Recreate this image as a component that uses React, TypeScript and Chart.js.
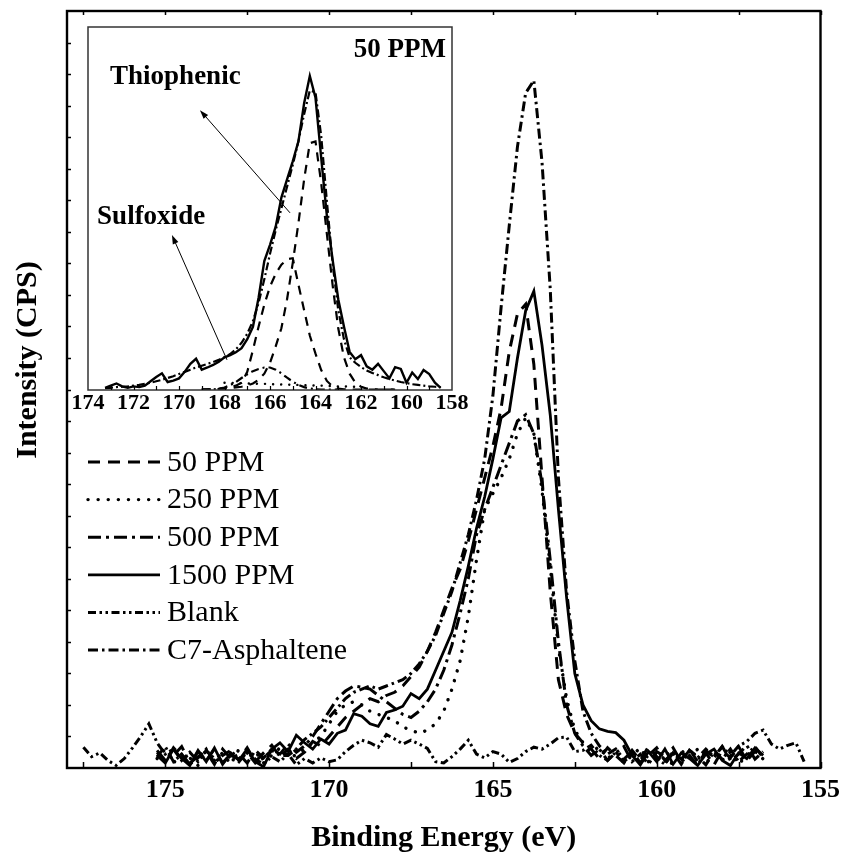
import React, { useEffect, useRef } from 'react';
import { Chart, registerables } from 'chart.js';

Chart.register(...registerables);

const SERIF = '"Liberation Serif", "Times New Roman", Times, serif';

// ---------------- Main plot data (Binding energy, eV) ----------------
const energy = [
  177.5, 177.25, 177, 176.75, 176.5, 176.25, 176, 175.75, 175.5, 175.25,
  175, 174.75, 174.5, 174.25, 174, 173.75, 173.5, 173.25, 173, 172.75,
  172.5, 172.25, 172, 171.75, 171.5, 171.25, 171, 170.75, 170.5, 170.25,
  170, 169.75, 169.5, 169.25, 169, 168.75, 168.5, 168.25, 168, 167.75,
  167.5, 167.25, 167, 166.75, 166.5, 166.25, 166, 165.75, 165.5, 165.25,
  165, 164.75, 164.5, 164.25, 164, 163.75, 163.5, 163.25, 163, 162.75,
  162.5, 162.25, 162, 161.75, 161.5, 161.25, 161, 160.75, 160.5, 160.25,
  160, 159.75, 159.5, 159.25, 159, 158.75, 158.5, 158.25, 158, 157.75,
  157.5, 157.25, 157, 156.75, 156.5, 156.25, 156, 155.75, 155.5,
];

const ppm50 = [
  null, null, null, null, null, null, null, null, null, 2.5,
  1.0, 3.2, 1.8, 0.6, 2.6, 1.2, 3.0, 0.8, 2.0, 1.4,
  3.2, 1.0, 2.4, 3.6, 1.8, 3.0, 1.5, 2.5, 4.2, 3.5,
  5.0, 6.5, 8.0, 9.0, 10.0, 11.0, 10.5, 11.5, 12.0, 13.0,
  14.5, 16.0, 18.5, 21.5, 25.0, 28.5, 31.5, 36.0, 41.0, 46.0,
  51.0, 57.0, 66.0, 72.0, 73.5, 64.0, 46.0, 28.0, 14.0, 8.5,
  5.5, 4.0, 3.0, 1.5, 3.2, 2.0, 0.8, 2.8, 1.2, 3.4,
  1.8, 0.6, 2.6, 1.4, 3.0, 1.0, 2.4, 0.5, 2.8, 1.6,
  3.4, 1.2, 2.6, 1.8, null, null, null, null, null,
];

const ppm250 = [
  null, null, null, null, null, null, null, null, null, 1.5,
  3.0, 0.8, 2.2, 1.6, 0.4, 2.8, 1.2, 2.4, 0.6, 3.0,
  1.4, 2.6, 0.8, 2.0, 3.2, 1.8, 2.0, 3.0, 4.0, 5.0,
  7.0, 9.0, 10.0, 10.5, 10.0, 9.0, 8.5, 8.0, 7.5, 6.5,
  6.0, 5.5, 6.0, 7.0, 9.0, 12.5, 17.0, 24.0, 33.0, 41.0,
  43.5, 46.0, 49.0, 53.0, 55.5, 53.0, 44.0, 32.0, 19.0, 11.0,
  6.0, 4.0, 2.5, 3.4, 1.5, 2.6, 0.8, 2.0, 3.2, 1.0,
  2.4, 1.4, 0.6, 2.8, 1.6, 3.0, 0.8, 2.2, 1.2, 2.6,
  0.6, 2.0, 3.0, 1.4, null, null, null, null, null,
];

const ppm500 = [
  null, null, null, null, null, null, null, null, null, 2.8,
  1.2, 2.0, 3.4, 0.8, 1.8, 2.6, 0.6, 3.0, 1.5, 2.2,
  0.8, 2.8, 1.6, 3.0, 2.2, 3.8, 2.5, 3.5, 5.0, 7.0,
  9.0, 11.0, 12.2, 13.0, 12.8, 12.5, 11.5, 10.5, 9.5, 8.5,
  8.0, 9.0, 10.5, 12.5, 15.5, 19.5, 24.5, 30.0, 37.0, 41.0,
  44.5, 48.0, 51.5, 55.0, 56.0, 53.0, 45.0, 33.0, 20.0, 10.0,
  5.5, 3.5, 2.0, 3.0, 1.2, 2.4, 3.4, 1.0, 2.2, 0.6,
  2.6, 1.8, 3.2, 1.0, 2.0, 0.4, 2.8, 1.6, 3.4, 1.2,
  2.2, 3.6, 1.4, 2.6, null, null, null, null, null,
];

const ppm1500 = [
  null, null, null, null, null, null, null, null, null, 2.0,
  0.8, 3.0, 1.5, 0.4, 2.8, 1.0, 3.2, 0.6, 2.4, 1.2,
  3.0, 1.0, 0.2, 3.0, 4.0, 2.6, 5.2, 4.0, 3.0, 4.6,
  3.8, 5.5, 6.0, 8.6, 8.2, 7.0, 6.6, 8.8, 9.2, 9.8,
  11.8, 11.0, 12.5, 15.5, 18.5, 21.5, 26.5, 32.0, 38.0, 43.0,
  49.0, 55.5, 56.5, 65.0, 72.5, 75.6, 67.0, 56.0, 41.0, 27.0,
  15.0, 10.0, 7.5, 6.2, 5.8, 5.6, 4.4, 2.0, 0.5, 2.6,
  1.0, 3.0, 0.6, 2.4, 1.5, 0.4, 2.2, 3.0, 1.2, 0.4,
  2.4, 1.5, 3.2, 2.0, null, null, null, null, null,
];

const blank = [
  3.3, 1.8, 2.4, 1.2, 0.4, 1.5, 3.2, 5.0, 7.0, 4.0,
  2.2, 3.0, 1.2, 2.5, 1.0, 2.8, 1.5, 0.8, 2.2, 1.0,
  2.6, 1.4, 0.6, 1.8, 1.0, 2.2, 0.5, 1.5, 0.8, 1.6,
  1.0, 1.3, 2.6, 3.6, 4.4, 4.0, 3.3, 5.3, 4.6, 3.8,
  4.4, 3.8, 3.1, 1.0, 0.8, 1.8, 3.0, 4.4, 2.2, 1.6,
  2.6, 2.2, 0.9, 1.5, 2.6, 3.3, 3.0, 3.8, 4.8, 4.9,
  2.6, 2.8, 3.6, 2.0, 1.2, 2.5, 1.0, 2.2, 0.8, 2.6,
  1.5, 0.6, 2.4, 1.2, 2.8, 1.6, 3.0, 1.8, 3.4, 2.0,
  3.5, 4.2, 5.5, 6.0, 3.8, 3.0, 3.6, 4.0, 1.0,
];

const c7Asphaltene = [
  null, null, null, null, null, null, null, null, null, 1.8,
  3.4, 1.0, 2.2, 0.6, 1.6, 3.0, 0.8, 2.0, 2.8, 1.2,
  2.4, 0.8, 1.6, 2.8, 2.0, 2.0, 3.0, 4.5, 5.5, 6.5,
  8.0, 9.5, 11.0, 12.0, 12.5, 13.0, 12.5, 13.0, 13.5, 14.0,
  15.0, 16.5, 18.5, 21.0, 24.5, 28.0, 32.5, 37.0, 42.5, 49.0,
  59.0, 73.0, 86.0, 98.5, 107.0, 109.0, 96.0, 76.0, 46.0, 28.0,
  17.0, 9.0, 5.5, 3.5, 2.2, 3.0, 1.4, 2.6, 0.8, 2.0,
  3.2, 1.2, 2.4, 0.6, 2.8, 1.8, 0.5, 2.6, 1.4, 3.0,
  1.0, 2.2, 3.4, 1.6, null, null, null, null, null,
];

const seriesLabels = ['50 PPM', '250 PPM', '500 PPM', '1500 PPM', 'Blank', 'C7-Asphaltene'];
const seriesValues = [ppm50, ppm250, ppm500, ppm1500, blank, c7Asphaltene];
const xTickLabels = [175, 170, 165, 160, 155];

// ---------------- Inset data (50 PPM deconvolution) ----------------
const insetEnergy = [
  173.25, 173, 172.75, 172.5, 172.25, 172, 171.75, 171.5, 171.25, 171,
  170.75, 170.5, 170.25, 170, 169.75, 169.5, 169.25, 169, 168.75, 168.5,
  168.25, 168, 167.75, 167.5, 167.25, 167, 166.75, 166.5, 166.25, 166,
  165.75, 165.5, 165.25, 165, 164.75, 164.5, 164.25, 164, 163.75, 163.5,
  163.25, 163, 162.75, 162.5, 162.25, 162, 161.75, 161.5, 161.25, 161,
  160.75, 160.5, 160.25, 160, 159.75, 159.5, 159.25, 159, 158.75, 158.5,
];

const insetRaw = [
  0.6, 1.2, 1.8, 1.0, 0.6, 1.0, 0.8, 1.2, 2.4, 3.6,
  4.6, 2.2, 2.6, 3.2, 5.0, 7.2, 8.6, 5.6, 6.2, 6.9,
  7.8, 9.0, 9.6, 10.4, 11.5, 14.0, 17.4, 25.5, 35.5, 40.0,
  45.0, 53.0, 58.0, 63.0, 68.5, 79.0, 86.5, 80.5, 64.0, 48.0,
  36.0, 25.0, 17.5, 10.5, 8.5, 9.6, 6.5, 5.6, 7.2, 5.2,
  3.2, 6.3, 5.8, 2.0, 4.8, 3.0, 5.5, 4.4, 2.0, 0.6,
];

const insetFit = [
  0.5, 0.6, 0.8, 0.9, 1.0, 1.2, 1.4, 1.7, 2.0, 2.4,
  2.8, 3.3, 3.8, 4.4, 5.0, 5.6, 6.2, 6.7, 7.2, 7.7,
  8.3, 9.0, 9.9, 11.2, 13.0, 15.5, 19.0, 24.0, 30.5, 37.5,
  44.0, 50.0, 56.0, 62.0, 68.5, 76.0, 82.5, 82.0, 70.0, 52.0,
  35.0, 22.0, 14.0, 9.0, 7.5, 6.3, 5.4, 4.7, 4.1, 3.5,
  3.0, 2.6, 2.2, 1.9, 1.6, 1.4, 1.2, 1.0, 0.9, 0.8,
];

const insetThiophenic32 = [
  null, null, null, null, null, null, null, null, null, null,
  null, null, null, null, null, null, null, 0.1, 0.1, 0.2,
  0.3, 0.4, 0.5, 0.7, 0.9, 1.2, 1.8, 2.8, 4.5, 7.5,
  12.0, 17.0, 25.0, 35.0, 46.0, 58.0, 68.0, 68.5, 57.0, 43.0,
  29.0, 17.0, 9.0, 4.5, 2.0, 0.9, 0.4, 0.2, 0.1, 0.1,
  0.1, 0.1, null, null, null, null, null, null, null, null,
];

const insetThiophenic12 = [
  null, null, null, null, null, null, null, null, null, null,
  null, null, null, null, null, null, null, 0.1, 0.1, 0.2,
  0.3, 0.5, 0.8, 1.2, 2.0, 5.0, 11.0, 17.5, 23.5, 28.5,
  32.0, 34.5, 36.0, 36.3, 29.0, 22.0, 15.0, 10.0, 5.5, 2.5,
  1.0, 0.4, 0.2, 0.1, 0.1, 0.1, 0.1, 0.1, 0.1, 0.1,
  0.1, 0.1, null, null, null, null, null, null, null, null,
];

const insetSulfoxide = [
  null, null, null, null, null, null, null, null, null, null,
  null, null, null, null, null, null, null, 0.1, 0.15, 0.2,
  0.3, 0.7, 1.3, 2.2, 3.3, 4.3, 5.2, 5.8, 6.2, 6.2,
  5.6, 4.6, 3.4, 2.3, 1.4, 0.8, 0.4, 0.2, 0.1, 0.1,
  0.1, 0.1, null, null, null, null, null, null, null, null,
  null, null, null, null, null, null, null, null, null, null,
];

const insetBackground = [
  null, null, null, null, null, null, null, null, null, null,
  null, null, null, null, null, null, null, null, null, null,
  null, 2.0, 2.0, 1.9, 1.9, 1.8, 1.8, 1.7, 1.7, 1.6,
  1.6, 1.5, 1.5, 1.4, 1.4, 1.3, 1.3, 1.2, 1.2, 1.1,
  1.1, 1.0, 1.0, 0.9, 0.9, 0.8, 0.8, null, null, null,
  null, null, null, null, null, null, null, null, null, null,
];

const insetTickLabels = [174, 172, 170, 168, 166, 164, 162, 160, 158];
const insetTitle = '50 PPM';
const insetNotes = [
  { text: 'Thiophenic', x: 173.03, y: 86.2, align: 'left' },
  { text: 'Sulfoxide', x: 173.6, y: 47.7, align: 'left' },
  { text: insetTitle, x: 158.26, y: 93.7, align: 'right' },
];
const insetArrows = [
  { from: [165.12, 48.8], to: [169.08, 77.1] },
  { from: [167.89, 8.3], to: [170.31, 42.7] },
];

// ---------------- Styles ----------------
const mainStyles = [
  { dash: [12, 8], width: 3, cap: 'butt' },
  { dash: [0.1, 10], width: 3.4, cap: 'round' },
  { dash: [13, 5, 3, 5], width: 3, cap: 'butt' },
  { dash: [], width: 2.8, cap: 'butt' },
  { dash: [8, 3.5, 2.5, 3.5, 2.5, 3.5], width: 3, cap: 'butt' },
  { dash: [10, 4, 2.5, 4], width: 3, cap: 'butt' },
];

function toPoints(xs: number[], ys: (number | null)[]) {
  return xs.map((x, i) => ({ x, y: ys[i] }));
}

function drawArrow(ctx: CanvasRenderingContext2D, x1: number, y1: number, x2: number, y2: number) {
  const ang = Math.atan2(y2 - y1, x2 - x1);
  const len = 9;
  const hw = 3;
  ctx.beginPath();
  ctx.moveTo(x1, y1);
  ctx.lineTo(x2 - Math.cos(ang) * len * 0.8, y2 - Math.sin(ang) * len * 0.8);
  ctx.stroke();
  ctx.beginPath();
  ctx.moveTo(x2, y2);
  ctx.lineTo(x2 - Math.cos(ang) * len + Math.sin(ang) * hw, y2 - Math.sin(ang) * len - Math.cos(ang) * hw);
  ctx.lineTo(x2 - Math.cos(ang) * len - Math.sin(ang) * hw, y2 - Math.sin(ang) * len + Math.cos(ang) * hw);
  ctx.closePath();
  ctx.fill();
}

const mainDecor = {
  id: 'mainDecor',
  afterDraw(chart: any) {
    const { ctx, chartArea } = chart;
    const { left, right, top, bottom } = chartArea;
    const xs = chart.scales.x;
    const ys = chart.scales.y;
    ctx.save();
    ctx.strokeStyle = '#000';
    ctx.fillStyle = '#000';
    ctx.setLineDash([]);
    ctx.lineWidth = 2.4;
    ctx.strokeRect(left, top, right - left, bottom - top);
    ctx.lineWidth = 1.5;
    for (let v = 177.5; v >= 155; v -= 2.5) {
      const px = Math.round(xs.getPixelForValue(v)) + 0.5;
      ctx.beginPath();
      ctx.moveTo(px, bottom);
      ctx.lineTo(px, bottom - 6);
      ctx.moveTo(px, top);
      ctx.lineTo(px, top + 4);
      ctx.stroke();
    }
    for (let v = 5; v < 120; v += 5) {
      const py = Math.round(ys.getPixelForValue(v)) + 0.5;
      ctx.beginPath();
      ctx.moveTo(left, py);
      ctx.lineTo(left + 4, py);
      ctx.stroke();
    }
    // axis titles
    ctx.font = `bold 30px ${SERIF}`;
    ctx.textAlign = 'center';
    ctx.textBaseline = 'alphabetic';
    ctx.fillText('Binding Energy (eV)', (left + right) / 2, 846);
    ctx.save();
    ctx.translate(36, 360);
    ctx.rotate(-Math.PI / 2);
    ctx.fillText('Intensity (CPS)', 0, 0);
    ctx.restore();
    // legend
    ctx.font = `30px ${SERIF}`;
    ctx.textAlign = 'left';
    ctx.textBaseline = 'middle';
    chart.data.datasets.forEach((ds: any, i: number) => {
      const y = 462 + i * 37.6;
      ctx.save();
      ctx.lineWidth = ds.borderWidth;
      ctx.lineCap = ds.borderCapStyle || 'butt';
      ctx.setLineDash(ds.borderDash || []);
      ctx.beginPath();
      ctx.moveTo(88, y);
      ctx.lineTo(160, y);
      ctx.stroke();
      ctx.restore();
      ctx.fillText(ds.label, 167, y + 1);
    });
    ctx.restore();
  },
};

const insetDecor = {
  id: 'insetDecor',
  beforeDatasetsDraw(chart: any) {
    const { ctx, chartArea } = chart;
    ctx.save();
    ctx.fillStyle = '#fff';
    ctx.fillRect(chartArea.left, chartArea.top, chartArea.right - chartArea.left, chartArea.bottom - chartArea.top);
    ctx.restore();
  },
  afterDraw(chart: any) {
    const { ctx, chartArea } = chart;
    const { left, right, top, bottom } = chartArea;
    const xs = chart.scales.x;
    const ys = chart.scales.y;
    ctx.save();
    ctx.setLineDash([]);
    ctx.strokeStyle = '#333';
    ctx.lineWidth = 1.5;
    ctx.strokeRect(left, top, right - left, bottom - top);
    ctx.strokeStyle = '#000';
    ctx.lineWidth = 1.2;
    for (let v = 159; v <= 173; v += 1) {
      const px = Math.round(xs.getPixelForValue(v)) + 0.5;
      ctx.beginPath();
      ctx.moveTo(px, bottom);
      ctx.lineTo(px, bottom - 4);
      ctx.stroke();
    }
    ctx.fillStyle = '#000';
    ctx.strokeStyle = '#000';
    ctx.lineWidth = 1;
    insetArrows.forEach((a) => {
      drawArrow(
        ctx,
        xs.getPixelForValue(a.from[0]), ys.getPixelForValue(a.from[1]),
        xs.getPixelForValue(a.to[0]), ys.getPixelForValue(a.to[1]),
      );
    });
    ctx.font = `bold 27px ${SERIF}`;
    ctx.textBaseline = 'middle';
    insetNotes.forEach((n) => {
      ctx.textAlign = n.align as CanvasTextAlign;
      ctx.fillText(n.text, xs.getPixelForValue(n.x), ys.getPixelForValue(n.y));
    });
    ctx.restore();
  },
};

function mainConfig(): any {
  return {
    type: 'line',
    data: {
      datasets: seriesValues.map((vals, i) => ({
        label: seriesLabels[i],
        data: toPoints(energy, vals),
        borderColor: '#000',
        backgroundColor: '#000',
        borderWidth: mainStyles[i].width,
        borderDash: mainStyles[i].dash,
        borderCapStyle: mainStyles[i].cap,
        borderJoinStyle: 'miter',
        pointRadius: 0,
        fill: false,
        tension: 0,
      })),
    },
    options: {
      animation: false,
      responsive: false,
      devicePixelRatio: 1,
      layout: { padding: { left: 67, top: 11, right: 25, bottom: 0 } },
      plugins: { legend: { display: false }, tooltip: { enabled: false } },
      scales: {
        x: {
          type: 'linear',
          min: 155,
          max: 178,
          reverse: true,
          grid: { display: false, drawTicks: false },
          border: { display: false },
          ticks: {
            color: '#000',
            padding: 7,
            maxRotation: 0,
            autoSkip: false,
            font: { family: SERIF, size: 26, weight: 'bold' },
          },
          afterBuildTicks: (s: any) => {
            s.ticks = xTickLabels.map((v) => ({ value: v }));
          },
          afterFit: (s: any) => {
            s.height = 86;
          },
        },
        y: { type: 'linear', min: 0, max: 120, display: false },
      },
    },
    plugins: [mainDecor],
  };
}

function insetConfig(): any {
  const sets = [
    { data: insetBackground, dash: [0.1, 8], width: 2.4, cap: 'round' },
    { data: insetSulfoxide, dash: [8, 4, 2, 4], width: 2.2, cap: 'butt' },
    { data: insetThiophenic12, dash: [9, 7], width: 2.2, cap: 'butt' },
    { data: insetThiophenic32, dash: [9, 7], width: 2.2, cap: 'butt' },
    { data: insetFit, dash: [8, 3, 2, 3], width: 2.2, cap: 'butt' },
    { data: insetRaw, dash: [], width: 2.4, cap: 'butt' },
  ];
  return {
    type: 'line',
    data: {
      datasets: sets.map((s) => ({
        data: toPoints(insetEnergy, s.data),
        borderColor: '#000',
        borderWidth: s.width,
        borderDash: s.dash,
        borderCapStyle: s.cap,
        pointRadius: 0,
        fill: false,
        tension: 0,
      })),
    },
    options: {
      animation: false,
      responsive: false,
      devicePixelRatio: 1,
      layout: { padding: { left: 48, top: 12, right: 48, bottom: 0 } },
      plugins: { legend: { display: false }, tooltip: { enabled: false } },
      scales: {
        x: {
          type: 'linear',
          min: 158,
          max: 174,
          reverse: true,
          grid: { display: false, drawTicks: false },
          border: { display: false },
          ticks: {
            color: '#000',
            padding: 0,
            maxRotation: 0,
            autoSkip: false,
            font: { family: SERIF, size: 22, weight: 'bold' },
          },
          afterBuildTicks: (s: any) => {
            s.ticks = insetTickLabels.map((v) => ({ value: v }));
          },
          afterFit: (s: any) => {
            s.height = 45;
          },
        },
        y: { type: 'linear', min: 0, max: 100, display: false },
      },
    },
    plugins: [insetDecor],
  };
}

export default function App() {
  const mainRef = useRef<HTMLCanvasElement>(null);
  const insetRef = useRef<HTMLCanvasElement>(null);
  useEffect(() => {
    const main = new Chart(mainRef.current as HTMLCanvasElement, mainConfig());
    const inset = new Chart(insetRef.current as HTMLCanvasElement, insetConfig());
    return () => {
      main.destroy();
      inset.destroy();
    };
  }, []);
  return (
    <div style={{ position: 'absolute', left: 0, top: 0, width: 847, height: 854, background: '#fff' }}>
      <canvas
        ref={mainRef}
        width={847}
        height={854}
        style={{ position: 'absolute', left: 0, top: 0, width: 847, height: 854 }}
      />
      <canvas
        ref={insetRef}
        width={460}
        height={420}
        style={{ position: 'absolute', left: 40, top: 15, width: 460, height: 420 }}
      />
    </div>
  );
}
